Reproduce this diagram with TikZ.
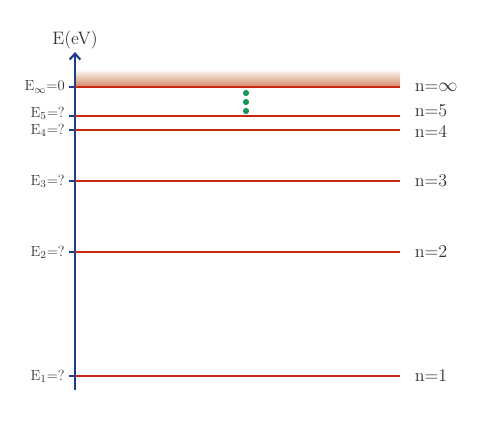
\documentclass[tikz,border=0pt]{standalone}
\usepackage{amsmath}
\usepackage{xcolor}
\usepackage{tikz}
\usetikzlibrary{arrows.meta,positioning}

\definecolor{levelred}{RGB}{200,40,15}
\definecolor{axisblue}{RGB}{30,60,140}
\definecolor{bandbrown}{RGB}{212,135,100}
\definecolor{dotgreen}{RGB}{25,150,90}

\begin{document}
\begin{tikzpicture}[
    x=0.75pt, y=-0.75pt,
    node distance=10pt,
    level/.style={draw=levelred, line width=1.5pt},
    tickmark/.style={draw=axisblue, line width=1.5pt},
    axis/.style={draw=axisblue, line width=1.6pt, -{Straight Barb[length=4.5pt, width=8pt, line width=1.6pt]}},
    elabel/.style={font=\fontsize{11}{13}\selectfont, text=black!80, inner sep=1pt},
    nlabel/.style={font=\fontsize{13.5}{15}\selectfont, text=black!80, inner sep=1pt},
    dot/.style={circle, fill=dotgreen, inner sep=0pt, minimum size=4.6pt}
]
\useasboundingbox (0,0) rectangle (481,422);

% continuum above E_inf
\shade[top color=white, bottom color=bandbrown] (75,69) rectangle (400,87);

% axis
\coordinate (bottom) at (75,390);
\coordinate (top) at (75,52);
\draw[axis] (bottom) -- (top);
\node[nlabel] (unit) at (75,40) {E(eV)};

% levels
\coordinate (l1) at (75,376);  \coordinate (r1) at (400,376);  \coordinate (t1) at (69,376);
\coordinate (l2) at (75,252);  \coordinate (r2) at (400,252);  \coordinate (t2) at (69,252);
\coordinate (l3) at (75,181);  \coordinate (r3) at (400,181);  \coordinate (t3) at (69,181);
\coordinate (l4) at (75,130);  \coordinate (r4) at (400,130);  \coordinate (t4) at (69,130);
\coordinate (l5) at (75,116);  \coordinate (r5) at (400,116);  \coordinate (t5) at (69,116);
\coordinate (li) at (75,87);   \coordinate (ri) at (400,87);   \coordinate (ti) at (69,87);

\draw[level] (l1) -- (r1);
\draw[level] (l2) -- (r2);
\draw[level] (l3) -- (r3);
\draw[level] (l4) -- (r4);
\draw[level] (l5) -- (r5);
\draw[level] (li) -- (ri);

\draw[tickmark] (t1) -- (l1);
\draw[tickmark] (t2) -- (l2);
\draw[tickmark] (t3) -- (l3);
\draw[tickmark] (t4) -- (l4);
\draw[tickmark] (t5) -- (l5);
\draw[tickmark] (ti) -- (li);

\node[elabel, left=2pt of t1] (e1) {E$_1$=?};
\node[elabel, left=2pt of t2] (e2) {E$_2$=?};
\node[elabel, left=2pt of t3] (e3) {E$_3$=?};
\node[elabel, left=2pt of t4] (e4) {E$_4$=?};
\node[elabel, left=2pt of t5, yshift=2pt] (e5) {E$_5$=?};
\node[elabel, left=2pt of ti] (ei) {E$_\infty$=0};

\node[nlabel, right=of r1] (n1) {n=1};
\node[nlabel, right=of r2] (n2) {n=2};
\node[nlabel, right=of r3] (n3) {n=3};
\node[nlabel, right=of r4, yshift=-1pt] (n4) {n=4};
\node[nlabel, right=of r5, yshift=4pt] (n5) {n=5};
\node[nlabel, right=of ri] (ni) {n=$\infty$};

% higher levels
\node[dot] (d1) at (246,93) {};
\node[dot] (d2) at (246,102) {};
\node[dot] (d3) at (246,111) {};
\end{tikzpicture}
\end{document}
